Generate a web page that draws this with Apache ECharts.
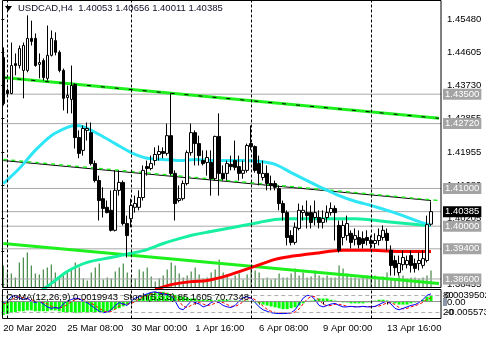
<!DOCTYPE html>
<html><head><meta charset="utf-8">
<script src="https://cdn.jsdelivr.net/npm/echarts@6/dist/echarts.min.js"></script>
<style>html,body{margin:0;padding:0;background:#fff}#c{width:486px;height:339px}</style>
</head><body><div id="c"></div>
<script>
// ---------- DATA ----------
const titleText = 'USDCAD,H4  1.40053 1.40656 1.40011 1.40385';
const indText = 'OsMA(12,26,9) 0.0019943  Stoch(5,3,3) 85.1605 70.7348';
const slotCount = 110; // 108 H4 bars + chart shift
const timeTickIdx = [0, 16, 32, 48, 64, 80, 96];
const timeTickLabels = ['20 Mar 2020', '25 Mar 08:00', '30 Mar 00:00', '1 Apr 16:00', '6 Apr 08:00', '9 Apr 00:00', '13 Apr 16:00'];
const separatorIdx = [1, 32, 62, 92];
const priceTicks = [1.45480, 1.44605, 1.43730, 1.42855, 1.41955, 1.41080, 1.40205, 1.39330, 1.38455];
const levels = [1.43500, 1.42720, 1.41000, 1.40000, 1.39400, 1.38600];
const bidPrice = 1.40385;

const opens = [
1.4447,1.4360,1.4352,1.4431,1.4426,1.4413,1.4413,1.4498,1.4498,1.4429,
1.4439,1.4392,1.4453,1.4492,1.4461,1.4413,1.4341,1.4336,1.4373,1.4235,
1.4201,1.4254,1.4248,1.4166,1.4121,1.4073,1.4050,1.4042,1.3989,1.4095,
1.4116,1.4007,1.4020,1.4050,1.4050,1.4076,1.4158,1.4153,1.4174,1.4190,
1.4198,1.4193,1.4240,1.4140,1.4068,1.4073,1.4113,1.4195,1.4248,1.4219,
1.4174,1.4169,1.4169,1.4126,1.4238,1.4140,1.4140,1.4164,1.4174,1.4158,
1.4140,1.4148,1.4219,1.4211,1.4166,1.4129,1.4140,1.4113,1.4113,1.4100,
1.4060,1.4036,1.3975,1.3957,1.3994,1.4036,1.4036,1.4036,1.4023,1.4023,
1.4010,1.4023,1.4036,1.4047,1.4002,1.3970,1.3975,1.3981,1.3965,1.3970,
1.3967,1.3970,1.3962,1.3954,1.3962,1.3970,1.3981,1.3936,1.3909,1.3877,
1.3898,1.3898,1.3922,1.3901,1.3901,1.3896,1.3909,1.40053];
const closes = [
1.4325,1.4352,1.4426,1.4426,1.4471,1.4479,1.4498,1.4490,1.4426,1.4434,
1.4394,1.4453,1.4498,1.4461,1.4413,1.4339,1.4347,1.4373,1.4235,1.4193,
1.4259,1.4259,1.4166,1.4121,1.4068,1.4047,1.4036,1.3989,1.4095,1.4116,
1.4007,1.3975,1.4055,1.4060,1.4076,1.4148,1.4153,1.4166,1.4190,1.4198,
1.4193,1.4240,1.4140,1.4060,1.4073,1.4113,1.4195,1.4248,1.4219,1.4187,
1.4166,1.4182,1.4126,1.4238,1.4140,1.4126,1.4166,1.4158,1.4156,1.4140,
1.4148,1.4214,1.4211,1.4148,1.4140,1.4140,1.4113,1.4108,1.4103,1.4060,
1.4036,1.3970,1.3957,1.3997,1.4042,1.4042,1.4028,1.4010,1.4036,1.4010,
1.4020,1.4036,1.4047,1.4036,1.3936,1.4002,1.4007,1.3957,1.3975,1.3951,
1.3954,1.3962,1.3954,1.3962,1.3975,1.3989,1.3962,1.3896,1.3890,1.3901,
1.3917,1.3909,1.3896,1.3888,1.3909,1.3914,1.4004,1.40385];
const lows = [
1.4320,1.4347,1.4350,1.4400,1.4418,1.4339,1.4408,1.4479,1.4423,1.4392,
1.4386,1.4386,1.4450,1.4453,1.4408,1.4307,1.4299,1.4299,1.4206,1.4180,
1.4187,1.4227,1.4161,1.4116,1.4015,1.4023,1.4034,1.3986,1.3986,1.4081,
1.4002,1.3917,1.3997,1.4036,1.4042,1.4068,1.4134,1.4148,1.4161,1.4174,
1.4180,1.4187,1.4134,1.4015,1.4063,1.4068,1.4108,1.4187,1.4161,1.4161,
1.4161,1.4134,1.4081,1.4121,1.4081,1.4121,1.4121,1.4148,1.4148,1.4121,
1.4126,1.4142,1.4201,1.4142,1.4108,1.4121,1.4095,1.4095,1.4095,1.4042,
1.4015,1.3949,1.3949,1.3951,1.3989,1.4015,1.3994,1.3994,1.4002,1.3994,
1.3994,1.4010,1.4028,1.3962,1.3930,1.3949,1.3962,1.3941,1.3949,1.3941,
1.3941,1.3949,1.3941,1.3941,1.3949,1.3962,1.3936,1.3869,1.3869,1.3869,
1.3883,1.3888,1.3877,1.3877,1.3883,1.3888,1.3904,1.40011];
const highs = [
1.4474,1.4365,1.4487,1.4458,1.4479,1.4487,1.4559,1.4545,1.4511,1.4458,
1.4445,1.4532,1.4519,1.4514,1.4466,1.4418,1.4373,1.4426,1.4378,1.4254,
1.4267,1.4275,1.4275,1.4174,1.4134,1.4103,1.4068,1.4095,1.4148,1.4148,
1.4121,1.4028,1.4073,1.4081,1.4095,1.4161,1.4174,1.4187,1.4209,1.4214,
1.4209,1.4272,1.4352,1.4148,1.4108,1.4121,1.4201,1.4272,1.4254,1.4240,
1.4201,1.4201,1.4201,1.4240,1.4299,1.4161,1.4174,1.4187,1.4227,1.4187,
1.4174,1.4219,1.4267,1.4214,1.4187,1.4174,1.4161,1.4134,1.4121,1.4108,
1.4068,1.4042,1.3989,1.4010,1.4060,1.4055,1.4068,1.4055,1.4068,1.4042,
1.4042,1.4055,1.4063,1.4055,1.4015,1.4015,1.4028,1.3989,1.3994,1.3989,
1.3986,1.3989,1.3975,1.3981,1.3994,1.4002,1.3994,1.3949,1.3922,1.3922,
1.3936,1.3922,1.3936,1.3914,1.3930,1.3936,1.4028,1.40656];
const volumes = [
1100,750,700,500,1250,1500,1750,1100,700,650,
900,1000,1150,750,500,600,750,950,1250,1000,
450,350,750,1000,1200,400,500,450,800,1000,
1200,750,500,450,900,800,1000,550,300,450,
600,900,1250,1100,700,500,600,800,1000,650,
450,500,750,900,1400,750,550,400,600,700,
400,650,950,850,750,450,500,400,450,700,
500,500,700,950,600,750,500,550,850,600,
500,600,500,500,1100,950,700,500,500,450,
500,600,450,600,500,550,750,450,450,600,
600,450,500,500,450,500,600,850];

// moving averages read at bar indices [bar, price]
const maCyan = [[0,1.4113],[4,1.4153],[8,1.4201],[12,1.4240],[16,1.4262],[18,1.4267],[20,1.4264],[24,1.4243],[28,1.4219],[32,1.4195],[36,1.4180],[40,1.4177],[44,1.4174],[48,1.4177],[52,1.4174],[56,1.4174],[60,1.4174],[64,1.4172],[68,1.4164],[72,1.4142],[76,1.4121],[80,1.4100],[84,1.4081],[88,1.4066],[92,1.4055],[96,1.4042],[100,1.4028],[104,1.4012],[107,1.4002]];
const maSpring = [[9,1.3826],[11,1.3840],[13,1.3856],[16,1.3880],[21,1.3904],[27,1.3917],[32,1.3928],[36,1.3938],[40,1.3954],[44,1.3967],[48,1.3978],[52,1.3986],[56,1.3994],[60,1.4002],[64,1.4010],[68,1.4018],[72,1.4020],[80,1.4020],[88,1.4020],[96,1.4012],[104,1.4004],[107,1.4002]];
const maRed = [[38,1.3832],[42,1.3845],[47,1.3853],[51,1.3856],[56,1.3869],[62,1.3890],[68,1.3912],[72,1.3920],[78,1.3928],[85,1.3936],[92,1.3936],[100,1.3933],[107,1.3933]];
// trend channel lines [bar, price]
const chanUpper = [[0,1.4394],[109,1.4286]];
const chanMid = [[0,1.4174],[107,1.4068]];
const chanMidDash = [[0,1.4177],[108.5,1.4068]];
const chanLower = [[0,1.3954],[109,1.3848]];

const osma = [
-0.0044,-0.0041,-0.0038,
-0.0035,-0.0032,-0.0032,-0.0029,-0.0029,-0.0032,-0.0032,-0.0032,-0.0032,-0.0029,-0.0029,-0.0032,
-0.0035,-0.0035,-0.0035,-0.0038,-0.0038,-0.0035,-0.0035,-0.0035,-0.0035,-0.0035,-0.0035,-0.0032,
-0.0029,-0.0025,-0.0022,-0.0016,-0.0010,
-0.0003,0.0003,0.0010,
0.0019,0.0025,0.0029,0.0032,0.0032,0.0032,0.0029,0.0025,0.0022,
0.0019,0.0016,0.0013,0.0010,0.0010,0.0006,0.0006,
0.0006,0.0006,0.0003,0.0006,0.0006,0.0006,
0.0003,0.0003,0.0003,0.0003,0.0003,
0.0000,-0.0003,-0.0006,-0.0010,
-0.0013,-0.0016,-0.0019,-0.0022,-0.0025,-0.0025,-0.0022,-0.0019,-0.0013,-0.0006,
0.0000,0.0003,0.0006,0.0010,0.0010,0.0010,0.0006,
0.0003,0.0000,-0.0003,-0.0003,
-0.0006,-0.0006,-0.0006,-0.0006,-0.0003,-0.0003,
0.0003,0.0006,0.0006,0.0003,
-0.0003,-0.0006,-0.0010,-0.0010,-0.0010,
-0.0006,-0.0003,0.0000,
0.0006,0.0016,0.0019943];
const stochMain = [
55,60,75,80,70,65,70,60,55,60,
50,40,35,38,35,50,60,
65,70,68,60,55,45,
35,25,20,22,30,45,
55,50,45,60,70,75,
80,85,90,92,88,85,
82,80,60,35,30,
45,60,55,50,40,
45,55,60,55,45,40,
38,45,60,72,75,70,
55,40,30,25,20,
18,17,17,18,20,30,
50,70,80,78,
65,45,40,45,50,
52,45,40,40,
42,40,40,42,40,40,
42,48,55,60,50,
35,30,35,40,45,
48,55,65,80,85.1605];
const stochSignal = [
50,55,62,72,75,72,68,65,60,58,
55,50,42,38,36,40,48,
58,65,68,66,60,52,
45,35,27,22,24,32,
43,50,50,52,58,68,
75,80,85,89,90,88,
85,82,75,60,42,
38,45,52,55,50,
45,47,53,57,55,48,
42,42,48,58,68,72,
65,55,42,32,25,
21,19,18,18,19,22,
33,50,67,76,
75,63,50,43,45,
49,49,46,42,
41,41,41,41,41,41,
41,43,48,54,55,
48,38,33,35,40,
44,49,56,67,70.7348];
const stochLevels = [80, 20];
const osmaRange = [-0.005573, 0.0039502];
const priceRange = [1.38374, 1.45984];

// ---------- CHART ----------
const FONT = 'Liberation Sans';
const FS = 9.5;
const cats = [];
for (let i = 0; i < slotCount; i++) cats.push(String(i));
const candles = opens.map((o, i) => [o, closes[i], lows[i], highs[i]]);
const isTimeTick = (i) => timeTickIdx.indexOf(i) >= 0;

// horizontal price levels: full-width line on a hidden 0..1 x-axis with a boxed end label
function levelSeries(v, bg) {
  return {
    name: 'L' + v, type: 'line', xAxisIndex: 2, yAxisIndex: 0, data: [[0, v], [1, v]],
    symbol: 'none', z: 2, silent: true, clip: false,
    lineStyle: {color: '#a8a8a8', width: 1},
    endLabel: {show: true, distance: 2, formatter: v.toFixed(5), align: 'left', verticalAlign: 'middle',
      color: '#fff', backgroundColor: bg, padding: [1, 2, 0, 2], fontFamily: FONT, fontSize: FS},
    labelLayout: {hideOverlap: false}
  };
}
const sepMarks = separatorIdx.map(i => ({
  xAxis: i, lineStyle: {color: '#000', width: 1, type: [3, 2]}, label: {show: false}
}));

const levelSeriesList = levels.map(v => levelSeries(v, '#a4a4a4'));
levelSeriesList.push(levelSeries(bidPrice, '#000'));

const chart = echarts.init(document.getElementById('c'), null, {renderer: 'canvas'});
chart.setOption({
  animation: false,
  backgroundColor: '#fff',
  textStyle: {fontFamily: FONT},
  grid: [
    {left: 1.3, right: 45, top: 0.5, height: 287, containLabel: false, outerBoundsMode: 'none'},
    {left: 1.3, right: 45, top: 289.5, height: 29, containLabel: false, outerBoundsMode: 'none'}
  ],
  xAxis: [
    {type: 'category', gridIndex: 0, data: cats, boundaryGap: true,
     axisLine: {show: false}, axisTick: {show: false}, axisLabel: {show: false}, splitLine: {show: false}},
    {type: 'category', gridIndex: 1, data: cats, boundaryGap: true,
     axisLine: {show: false},
     axisTick: {show: true, alignWithLabel: true, interval: isTimeTick, length: 3, inside: false,
       lineStyle: {color: '#000'}},
     axisLabel: {show: true, interval: isTimeTick, align: 'left', margin: 5, color: '#000',
       fontFamily: FONT, fontSize: FS, hideOverlap: false,
       formatter: (v, i) => timeTickLabels[timeTickIdx.indexOf(Number(v))] || ''},
     splitLine: {show: false}},
    {type: 'value', gridIndex: 0, min: 0, max: 1, show: false, splitLine: {show: false}}
  ],
  yAxis: [
    {type: 'value', gridIndex: 0, position: 'right', min: priceRange[0], max: priceRange[1], scale: true,
     axisLine: {show: false}, splitLine: {show: false},
     axisTick: {show: true, customValues: priceTicks, length: 3, lineStyle: {color: '#000'}},
     axisLabel: {show: true, customValues: priceTicks, margin: 6, color: '#000', fontFamily: FONT, fontSize: FS,
       hideOverlap: false, formatter: v => v.toFixed(5)}},
    {type: 'value', gridIndex: 0, min: 0, max: 14350, show: false, splitLine: {show: false}},
    {type: 'value', gridIndex: 1, min: osmaRange[0], max: osmaRange[1], show: false, splitLine: {show: false}},
    {type: 'value', gridIndex: 1, min: 0, max: 100, show: false, splitLine: {show: false}}
  ],
  series: levelSeriesList.concat([
    {name: 'Separators', type: 'line', xAxisIndex: 0, yAxisIndex: 0, data: [], symbol: 'none', z: 2, silent: true,
     markLine: {silent: true, symbol: 'none', animation: false, data: sepMarks}},
    {name: 'Volume', type: 'bar', xAxisIndex: 0, yAxisIndex: 1, data: volumes, barWidth: 1,
     itemStyle: {color: '#1e6e1e'}, z: 1, silent: true},
    {name: 'LowerChannel', type: 'line', data: chanLower, symbol: 'none', z: 3,
     lineStyle: {color: '#1ef01e', width: 3}},
    {name: 'UpperChannel', type: 'line', data: chanUpper, symbol: 'none', z: 3,
     lineStyle: {color: '#1ef01e', width: 3}},
    {name: 'UpperChannelDash', type: 'line', data: chanUpper, symbol: 'none', z: 3,
     lineStyle: {color: '#000', width: 1, type: [4, 10]}},
    {name: 'MidChannel', type: 'line', data: chanMid, symbol: 'none', z: 3,
     lineStyle: {color: '#000', width: 1}},
    {name: 'MidChannelDash', type: 'line', data: chanMidDash, symbol: 'none', z: 3,
     lineStyle: {color: '#22ee22', width: 1.5, type: [4, 4]}},
    {name: 'MA red', type: 'line', data: maRed, symbol: 'none', smooth: 0.3, z: 3,
     lineStyle: {color: '#ff0000', width: 3}},
    {name: 'MA spring', type: 'line', data: maSpring, symbol: 'none', smooth: 0.3, z: 3,
     lineStyle: {color: '#17f0a0', width: 3}},
    {name: 'MA cyan', type: 'line', data: maCyan, symbol: 'none', smooth: 0.3, z: 3,
     lineStyle: {color: '#2ee6f5', width: 3}},
    {name: 'USDCAD', type: 'candlestick', xAxisIndex: 0, yAxisIndex: 0, data: candles, barWidth: 3, z: 5,
     itemStyle: {color: '#ffffff', color0: '#000000', borderColor: '#000000', borderColor0: '#000000', borderWidth: 1}},
    {name: 'OsMA', type: 'bar', xAxisIndex: 1, yAxisIndex: 2, data: osma, barWidth: 3,
     itemStyle: {color: '#00ff00'}, z: 2,
     markLine: {silent: true, symbol: 'none', animation: false, label: {show: false},
       data: [{yAxis: 0, lineStyle: {color: '#909090', width: 1, type: 'solid'}}].concat(sepMarks)}},
    {name: 'StochSignal', type: 'line', xAxisIndex: 1, yAxisIndex: 3, data: stochSignal, symbol: 'none', z: 3,
     lineStyle: {color: '#ff0000', width: 1, type: [3, 2]},
     markLine: {silent: true, symbol: 'none', animation: false, label: {show: false},
       data: stochLevels.map(v => ({yAxis: v, lineStyle: {color: '#b0b0b0', width: 1, type: [4, 3]}}))}},
    {name: 'StochMain', type: 'line', xAxisIndex: 1, yAxisIndex: 3, data: stochMain, symbol: 'none', z: 4,
     lineStyle: {color: '#0000ff', width: 1}}
  ]),
  graphic: [
    {type: 'rect', z: 50, silent: true, shape: {x: 2.5, y: 0.5, width: 438.5, height: 287},
     style: {fill: 'none', stroke: '#000', lineWidth: 1}},
    {type: 'rect', z: 50, silent: true, shape: {x: 2.5, y: 289.5, width: 438.5, height: 29},
     style: {fill: 'none', stroke: '#000', lineWidth: 1}},
    {type: 'polygon', z: 60, silent: true, shape: {points: [[5, 6], [12, 6], [8.5, 11]]}, style: {fill: '#000'}},
    {type: 'text', z: 60, silent: true, x: 18, y: 8,
     style: {text: titleText, fill: '#101028', font: FS + 'px ' + FONT, textVerticalAlign: 'middle'}},
    {type: 'text', z: 60, silent: true, x: 6, y: 297,
     style: {text: indText, fill: '#000', font: FS + 'px ' + FONT, textVerticalAlign: 'middle'}},
    {type: 'text', z: 60, silent: true, x: 443, y: 295,
     style: {text: '80', fill: '#000', font: FS + 'px ' + FONT, textVerticalAlign: 'middle'}},
    {type: 'text', z: 60, silent: true, x: 445, y: 295,
     style: {text: '0.0039502', fill: '#000', font: FS + 'px ' + FONT, textVerticalAlign: 'middle'}},
    {type: 'rect', z: 59, silent: true, shape: {x: 443, y: 298, width: 4, height: 8}, style: {fill: '#8c98a8'}},
    {type: 'text', z: 60, silent: true, x: 447, y: 302.5,
     style: {text: '0.00', fill: '#000', font: FS + 'px ' + FONT, textVerticalAlign: 'middle'}},
    {type: 'text', z: 60, silent: true, x: 443, y: 312,
     style: {text: '20', fill: '#000', font: FS + 'px ' + FONT, textVerticalAlign: 'middle'}},
    {type: 'text', z: 60, silent: true, x: 446, y: 312,
     style: {text: '-0.005573', fill: '#000', font: FS + 'px ' + FONT, textVerticalAlign: 'middle'}}
  ]
});
</script>
</body></html>
